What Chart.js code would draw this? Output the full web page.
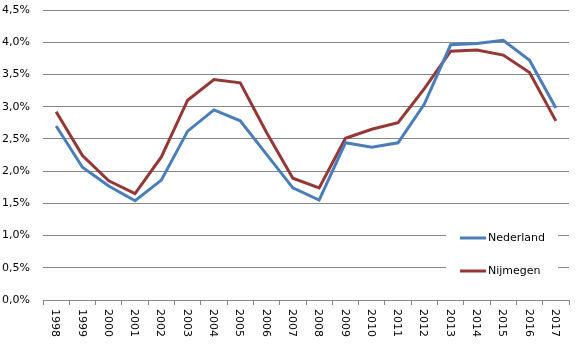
<!DOCTYPE html>
<html lang="nl">
<head>
<meta charset="utf-8">
<title>Nederland - Nijmegen</title>
<script src="https://cdn.jsdelivr.net/npm/chart.js@4"></script>
<style>
  html, body { margin: 0; padding: 0; background: #fff; }
  #wrap { width: 578px; height: 351px; }
</style>
</head>
<body>
<div id="wrap"><canvas id="chart" width="578" height="351"></canvas></div>
<script>
// jaren (x-as)
var jaren = ['1998','1999','2000','2001','2002','2003','2004','2005','2006','2007',
             '2008','2009','2010','2011','2012','2013','2014','2015','2016','2017'];

// percentages
var nederland = [2.70, 2.06, 1.77, 1.54, 1.86, 2.62, 2.95, 2.78, 2.26, 1.74,
                 1.55, 2.44, 2.37, 2.44, 3.04, 3.96, 3.98, 4.03, 3.72, 2.98];
var nijmegen  = [2.92, 2.24, 1.85, 1.65, 2.22, 3.10, 3.42, 3.37, 2.60, 1.89,
                 1.74, 2.51, 2.65, 2.75, 3.28, 3.86, 3.88, 3.80, 3.53, 2.78];

var yMin = 0, yMax = 4.5, yStap = 0.5;

var FONT = '"DejaVu Sans", Verdana, sans-serif';
var GRIJS = '#868686';

function pct(v) {
  return v.toFixed(1).replace('.', ',') + '%';
}

// x-labels met de klok mee gedraaid, zoals in Excel
var jaarLabels = {
  id: 'jaarLabels',
  afterDraw: function(chart) {
    var ctx = chart.ctx;
    var x = chart.scales.x;
    ctx.save();
    ctx.font = '11px ' + FONT;
    ctx.fillStyle = '#000';
    ctx.textAlign = 'left';
    ctx.textBaseline = 'middle';
    chart.data.labels.forEach(function(lab, i) {
      var px = x.getPixelForValue(i);
      ctx.save();
      ctx.translate(px - 1, chart.chartArea.bottom + 9);
      ctx.rotate(Math.PI / 2);
      ctx.fillText(lab, 0, 0);
      ctx.restore();
    });
    ctx.restore();
  }
};

// legenda rechtsonder binnen het plotgebied
var legenda = {
  id: 'legenda',
  afterDraw: function(chart) {
    var ctx = chart.ctx;
    ctx.save();
    ctx.fillStyle = '#fff';
    ctx.fillRect(446, 222, 112, 62);
    ctx.font = '11px ' + FONT;
    ctx.textAlign = 'left';
    ctx.textBaseline = 'middle';
    chart.data.datasets.forEach(function(ds, i) {
      var y = 238 + i * 33;
      ctx.strokeStyle = ds.borderColor;
      ctx.lineWidth = 3;
      ctx.beginPath();
      ctx.moveTo(460, y);
      ctx.lineTo(486, y);
      ctx.stroke();
      ctx.fillStyle = '#000';
      ctx.fillText(ds.label, 488, y);
    });
    ctx.restore();
  }
};

new Chart(document.getElementById('chart'), {
  type: 'line',
  data: {
    labels: jaren,
    datasets: [
      { label: 'Nederland', data: nederland, borderColor: '#4a7ebb', backgroundColor: '#4a7ebb',
        borderWidth: 3, pointRadius: 0, tension: 0, fill: false },
      { label: 'Nijmegen', data: nijmegen, borderColor: '#953735', backgroundColor: '#953735',
        borderWidth: 3, pointRadius: 0, tension: 0, fill: false }
    ]
  },
  options: {
    responsive: false,
    animation: false,
    layout: { padding: { top: 0, right: 9, left: 0, bottom: 0 } },
    plugins: {
      legend: { display: false },
      tooltip: { enabled: false }
    },
    scales: {
      x: {
        offset: true,
        grid: { offset: true, drawOnChartArea: false, drawTicks: true, tickLength: 5, color: GRIJS },
        border: { display: true, color: GRIJS },
        ticks: { display: false },
        afterFit: function(s) { s.height = 51; }
      },
      y: {
        min: yMin,
        max: yMax,
        grid: { color: GRIJS, drawTicks: false },
        border: { display: false },
        ticks: {
          stepSize: yStap,
          padding: 13,
          color: '#000',
          font: { family: FONT, size: 11 },
          callback: function(v) { return pct(v); }
        },
        afterFit: function(s) { s.width = 43; s.paddingTop = 10; s.paddingBottom = 0; }
      }
    }
  },
  plugins: [jaarLabels, legenda]
});
</script>
</body>
</html>
